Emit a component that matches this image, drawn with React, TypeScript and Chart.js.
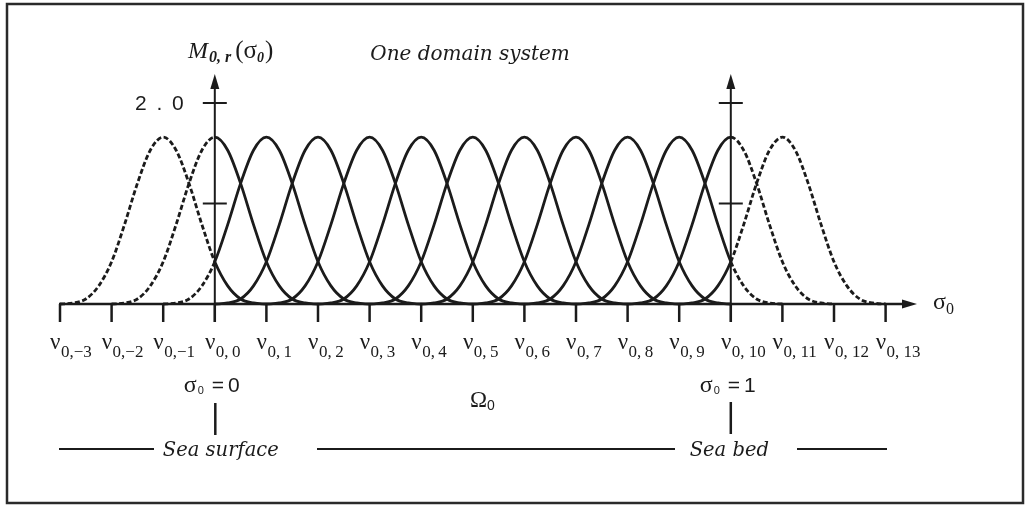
import React, { useEffect, useRef } from "react";
import { Chart, registerables } from "chart.js";

Chart.register(...registerables);

// Knot indices ν0,k shown along the σ0 axis
const knotIndices = [-3, -2, -1, 0, 1, 2, 3, 4, 5, 6, 7, 8, 9, 10, 11, 12, 13];
// Centres (in knot units) of the basis functions M0,r
const basisCentres = [-1, 0, 1, 2, 3, 4, 5, 6, 7, 8, 9, 10, 11];
// Shape of one basis function: offsets from its centre and heights at those offsets
const profileOffsets = [-2, -1.75, -1.5, -1.25, -1, -0.75, -0.5, -0.25, 0, 0.25, 0.5, 0.75, 1, 1.25, 1.5, 1.75, 2];
const profileHeights = [0, 0.01, 0.05, 0.18, 0.42, 0.79, 1.2, 1.53, 1.66, 1.53, 1.2, 0.79, 0.42, 0.18, 0.05, 0.01, 0];
// Ticks on the vertical axes and their labels
const yTickValues = [1, 2];
const yTickLabels = ["", "2 . 0"];
// Physical domain Ω0: σ0 = 0 at ν0,0 (sea surface), σ0 = 1 at ν0,10 (sea bed)
const domainStart = 0;
const domainEnd = 10;

const W = 1025;
const H = 506;
const FIRST_KNOT_PX = 60;
const PX_PER_KNOT = 51.6;
const BASELINE_PX = 304;
const PX_PER_UNIT = 100.5;

const INK = "#1b1b1b";

type Run = { t: string; font: string; dy?: number; dx?: number };

function drawRuns(ctx: CanvasRenderingContext2D, x: number, y: number, runs: Run[], align: "left" | "center" | "right" = "left") {
  ctx.save();
  ctx.textBaseline = "alphabetic";
  ctx.textAlign = "left";
  let total = 0;
  const widths = runs.map((r) => {
    ctx.font = r.font;
    const w = ctx.measureText(r.t).width + (r.dx || 0);
    total += w;
    return w;
  });
  let cx = align === "left" ? x : align === "center" ? x - total / 2 : x - total;
  runs.forEach((r, i) => {
    ctx.font = r.font;
    ctx.fillText(r.t, cx + (r.dx || 0), y + (r.dy || 0));
    cx += widths[i];
  });
  ctx.restore();
}

function line(ctx: CanvasRenderingContext2D, x1: number, y1: number, x2: number, y2: number, w: number) {
  ctx.save();
  ctx.strokeStyle = INK;
  ctx.lineWidth = w;
  ctx.beginPath();
  ctx.moveTo(x1, y1);
  ctx.lineTo(x2, y2);
  ctx.stroke();
  ctx.restore();
}

function arrowHead(ctx: CanvasRenderingContext2D, tipX: number, tipY: number, dir: "up" | "right") {
  ctx.save();
  ctx.fillStyle = INK;
  ctx.beginPath();
  if (dir === "up") {
    ctx.moveTo(tipX, tipY);
    ctx.lineTo(tipX - 4.5, tipY + 15);
    ctx.lineTo(tipX + 4.5, tipY + 15);
  } else {
    ctx.moveTo(tipX, tipY);
    ctx.lineTo(tipX - 15, tipY - 4.5);
    ctx.lineTo(tipX - 15, tipY + 4.5);
  }
  ctx.closePath();
  ctx.fill();
  ctx.restore();
}

const diagramPlugin = {
  id: "splineDiagram",
  beforeDatasetsDraw(chart: any) {
    const ctx: CanvasRenderingContext2D = chart.ctx;
    const xs = chart.scales.x;
    const ys = chart.scales.y;
    const y0 = ys.getPixelForValue(0);
    const tickBottom = y0 + 18;

    // frame
    ctx.save();
    ctx.strokeStyle = "#2a2a2a";
    ctx.lineWidth = 2.5;
    ctx.strokeRect(7, 4, 1016, 499);
    ctx.restore();

    // σ0 axis with knot ticks
    const xFirst = xs.getPixelForValue(knotIndices[0]);
    const arrowTip = 917;
    line(ctx, xFirst - 1, y0, arrowTip - 10, y0, 2.5);
    arrowHead(ctx, arrowTip, y0, "right");
    knotIndices.forEach((k) => {
      const px = xs.getPixelForValue(k);
      line(ctx, px, y0, px, tickBottom, 2.5);
    });

    // vertical axes at σ0 = 0 and σ0 = 1
    [domainStart, domainEnd].forEach((v) => {
      const px = xs.getPixelForValue(v);
      const tipY = 74;
      line(ctx, px, tickBottom, px, tipY + 10, 2);
      arrowHead(ctx, px, tipY, "up");
      yTickValues.forEach((tv) => {
        const py = ys.getPixelForValue(tv);
        line(ctx, px - 12, py, px + 12, py, 2);
      });
    });
  },
  afterDraw(chart: any) {
    const ctx: CanvasRenderingContext2D = chart.ctx;
    const xs = chart.scales.x;
    const ys = chart.scales.y;
    const xa = xs.getPixelForValue(domainStart);
    const xb = xs.getPixelForValue(domainEnd);
    ctx.save();
    ctx.fillStyle = INK;

    // vertical axis title and tick label
    drawRuns(ctx, 188, 58, [
      { t: "M", font: "italic 24px 'Liberation Serif'" },
      { t: "0, r", font: "italic bold 16px 'Liberation Serif'", dy: 4, dx: 1 },
      { t: "(", font: "25px 'Liberation Serif'", dx: 4 },
      { t: "σ", font: "25px 'Liberation Serif'" },
      { t: "0", font: "italic bold 14px 'Liberation Serif'", dy: 4 },
      { t: ")", font: "25px 'Liberation Serif'", dx: 1 },
    ]);
    yTickValues.forEach((tv, i) => {
      if (!yTickLabels[i]) return;
      ctx.save();
      ctx.font = "21px 'Liberation Sans'";
      (ctx as any).letterSpacing = "2px";
      ctx.textAlign = "right";
      ctx.textBaseline = "middle";
      ctx.fillText(yTickLabels[i], xa - 29, ys.getPixelForValue(tv) + 1);
      ctx.restore();
    });

    // title
    ctx.save();
    ctx.font = "italic 20px 'DejaVu Serif'";
    ctx.textAlign = "center";
    ctx.textBaseline = "middle";
    ctx.fillText("One domain system", 470, 55);
    ctx.restore();

    // σ0 axis label
    drawRuns(ctx, 933, 309, [
      { t: "σ", font: "24px 'Liberation Serif'" },
      { t: "0", font: "16px 'Liberation Serif'", dy: 5 },
    ]);

    // knot labels ν0,k
    knotIndices.forEach((k) => {
      const px = xs.getPixelForValue(k);
      ctx.save();
      ctx.font = "23px 'Liberation Serif'";
      ctx.textAlign = "right";
      ctx.textBaseline = "alphabetic";
      ctx.fillText("ν", px + 0.5, 349);
      ctx.textAlign = "left";
      ctx.font = "17px 'Liberation Serif'";
      const sub = k < 0 ? `0,−${-k}` : k < 10 ? `0,\u2009${k}` : `0, ${k}`;
      ctx.fillText(sub, px + 1, 357);
      ctx.restore();
    });

    // domain annotations
    const sigmaEq = (cx: number, value: string) => {
      drawRuns(ctx, cx - 31, 392, [
        { t: "σ", font: "24px 'Liberation Serif'" },
        { t: "0", font: "11px 'Liberation Sans'", dy: 2, dx: 1 },
        { t: "=", font: "21px 'Liberation Sans'", dx: 8 },
        { t: value, font: "21px 'Liberation Sans'", dx: 4 },
      ]);
    };
    sigmaEq(xa, "0");
    sigmaEq(xb, "1");
    drawRuns(ctx, 470, 407, [
      { t: "Ω", font: "23px 'Liberation Serif'" },
      { t: "0", font: "14px 'Liberation Sans'", dy: 3 },
    ]);

    line(ctx, xa + 0.5, 403, xa + 0.5, 435, 2.5);
    line(ctx, xb, 402, xb, 434, 2.5);

    ctx.save();
    ctx.font = "italic 19.5px 'DejaVu Serif'";
    ctx.textAlign = "center";
    ctx.textBaseline = "alphabetic";
    ctx.fillText("Sea surface", xa + 6, 456);
    ctx.fillText("Sea bed", xb - 1.5, 456);
    ctx.restore();

    line(ctx, 59, 449, 154, 449, 2);
    line(ctx, 317, 449, 675, 449, 2);
    line(ctx, 797, 449, 887, 449, 2);

    ctx.restore();
  },
};

export default function App() {
  const canvasRef = useRef<HTMLCanvasElement | null>(null);

  useEffect(() => {
    if (!canvasRef.current) return;
    const xMin = knotIndices[0] - FIRST_KNOT_PX / PX_PER_KNOT;
    const xMax = xMin + W / PX_PER_KNOT;
    const yMax = BASELINE_PX / PX_PER_UNIT;
    const yMin = yMax - H / PX_PER_UNIT;

    const datasets = basisCentres.map((c) => ({
      label: `M0,${c}`,
      data: profileOffsets.map((o, i) => ({ x: c + o, y: profileHeights[i] })),
      borderColor: INK,
      borderWidth: 2.8,
      pointRadius: 0,
      fill: false,
      cubicInterpolationMode: "monotone" as const,
      segment: {
        borderDash: (s: any) =>
          s.p1.parsed.x <= domainStart + 1e-6 || s.p0.parsed.x >= domainEnd - 1e-6 ? [5, 2.5] : undefined,
      },
    }));

    const chart = new Chart(canvasRef.current, {
      type: "line",
      data: { datasets },
      options: {
        animation: false,
        responsive: true,
        maintainAspectRatio: false,
        layout: { padding: 0 },
        plugins: { legend: { display: false }, tooltip: { enabled: false }, title: { display: false } },
        events: [],
        scales: {
          x: { type: "linear", min: xMin, max: xMax, display: false },
          y: { type: "linear", min: yMin, max: yMax, display: false },
        },
      },
      plugins: [diagramPlugin],
    });
    return () => chart.destroy();
  }, []);

  return (
    <div style={{ position: "absolute", left: 0, top: 0, width: W, height: H, background: "#fff" }}>
      <canvas ref={canvasRef} />
    </div>
  );
}
